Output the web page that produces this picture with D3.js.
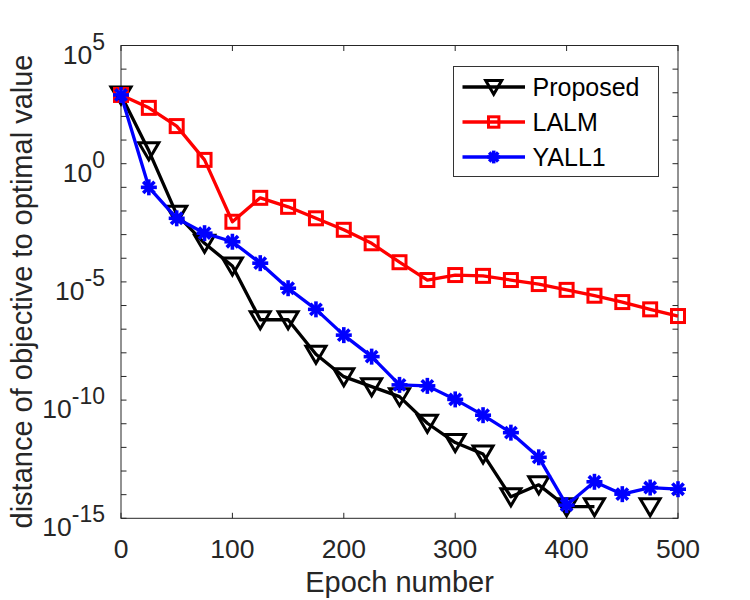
<!DOCTYPE html>
<html>
<head>
<meta charset="utf-8">
<script src="https://cdn.jsdelivr.net/npm/d3@7"></script>
<style>
  body { margin: 0; background: #fff; }
  svg { font-family: "Liberation Sans", Arial, sans-serif; }
</style>
</head>
<body>
<svg id="chart" width="750" height="600"></svg>
<script>
// epochs
var epochs = [0, 25, 50, 75, 100, 125, 150, 175, 200, 225, 250, 275, 300, 325, 350, 375, 400, 425, 450, 475, 500];

// null = not plotted (exact zero on log axis)
var proposed = [8.1e2, 3.5, 7.2e-3, 4.3e-4, 4.7e-5, 2.5e-7, 2.5e-7, 8.7e-9, 9.8e-10, 3.7e-10, 1.4e-10,
  1.05e-11, 1.6e-12, 5.2e-13, 8.1e-15, 2.6e-14, 3.1e-15, 3.1e-15, null, 3.1e-15, null];
var lalm = [8.1e2, 2.3e2, 39, 1.45, 3.5e-3, 3.6e-2, 1.5e-2, 4.9e-3, 1.6e-3, 4.3e-4, 6.8e-5,
  1.2e-5, 1.95e-5, 1.8e-5, 1.2e-5, 8.1e-6, 4.6e-6, 2.6e-6, 1.4e-6, 6.9e-7, 3.6e-7];
var yall1 = [8.1e2, 1.0e-1, 4.9e-3, 1.15e-3, 5.0e-4, 6.2e-5, 5.4e-6, 6.9e-7, 5.6e-8, 6.9e-9, 4.4e-10,
  4.0e-10, 1.07e-10, 2.3e-11, 4.2e-12, 3.8e-13, 3.6e-15, 3.5e-14, 1.05e-14, 2.0e-14, 1.7e-14];

var series_names = ["Proposed", "LALM", "YALL1"];
var series_colors = ["#000000", "#ff0000", "#0000ff"];
var series_markers = ["triangle", "square", "asterisk"];

var x_ticks = [0, 100, 200, 300, 400, 500];
var y_label_exps = [5, 0, -5, -10, -15];

var margin = {left: 121, right: 72, top: 45.5, bottom: 81.7};
var width = 750, height = 600;
var svg = d3.select("#chart");

var x = d3.scaleLinear().domain([0, 500]).range([margin.left, width - margin.right]);
var y = d3.scaleLog().domain([1e-15, 1e5]).range([height - margin.bottom, margin.top]);

var axis_color = "#262626";
var tick_len = 5.5;

function drawFrame(){
    svg.append("rect")
    .attr("x", margin.left)
    .attr("y", margin.top)
    .attr("width", x(500) - x(0))
    .attr("height", y(1e-15) - y(1e5))
    .style("fill", "none")
    .style("stroke", axis_color)
    .style("stroke-width", 1);

    // inward ticks on all four sides
    var decades = d3.range(-15, 6).map(e => Math.pow(10, e));
    svg.selectAll("line.ytick-l")
    .data(decades)
    .enter()
    .append("line")
    .attr("class", "ytick-l")
    .attr("x1", x(0)).attr("x2", x(0) + tick_len)
    .attr("y1", d => y(d)).attr("y2", d => y(d))
    .style("stroke", axis_color);

    svg.selectAll("line.ytick-r")
    .data(decades)
    .enter()
    .append("line")
    .attr("class", "ytick-r")
    .attr("x1", x(500)).attr("x2", x(500) - tick_len)
    .attr("y1", d => y(d)).attr("y2", d => y(d))
    .style("stroke", axis_color);

    svg.selectAll("line.xtick-b")
    .data(x_ticks)
    .enter()
    .append("line")
    .attr("class", "xtick-b")
    .attr("x1", d => x(d)).attr("x2", d => x(d))
    .attr("y1", y(1e-15)).attr("y2", y(1e-15) - tick_len)
    .style("stroke", axis_color);

    svg.selectAll("line.xtick-t")
    .data(x_ticks)
    .enter()
    .append("line")
    .attr("class", "xtick-t")
    .attr("x1", d => x(d)).attr("x2", d => x(d))
    .attr("y1", y(1e5)).attr("y2", y(1e5) + tick_len)
    .style("stroke", axis_color);
}

function drawLabels(){
    svg.selectAll("text.xlabel")
    .data(x_ticks)
    .enter()
    .append("text")
    .attr("class", "xlabel")
    .attr("x", d => x(d))
    .attr("y", y(1e-15) + 40)
    .attr("text-anchor", "middle")
    .attr("font-size", "26.5px")
    .style("fill", axis_color)
    .text(d => d);

    var yl = svg.selectAll("text.ylabel")
    .data(y_label_exps)
    .enter()
    .append("text")
    .attr("class", "ylabel")
    .attr("x", 105)
    .attr("y", d => y(Math.pow(10, d)) + 18)
    .attr("text-anchor", "end")
    .attr("font-size", "26.5px")
    .style("fill", axis_color);
    yl.append("tspan").text("10");
    yl.append("tspan")
    .attr("dy", -14)
    .attr("font-size", "23px")
    .text(d => d);

    svg.append("text")
    .attr("x", x(250))
    .attr("y", 591.5)
    .attr("text-anchor", "middle")
    .attr("font-size", "29px")
    .style("fill", axis_color)
    .text("Epoch number");

    svg.append("text")
    .attr("transform", "translate(31.5," + 291.5 + ") rotate(-90)")
    .attr("text-anchor", "middle")
    .attr("font-size", "29px")
    .style("fill", axis_color)
    .text("distance of objective to optimal value");
}

function drawMarker(g, type, color, s){
    if (type === "triangle") {
        g.append("path")
        .attr("d", "M" + (-10*s) + "," + (-8*s) + "L" + (10*s) + "," + (-8*s) + "L0," + (9*s) + "Z")
        .style("fill", "none")
        .style("stroke", color)
        .style("stroke-width", 3)
        .style("stroke-linejoin", "miter");
    } else if (type === "square") {
        g.append("rect")
        .attr("x", -6.5*s).attr("y", -6.5*s)
        .attr("width", 13*s).attr("height", 13*s)
        .style("fill", "none")
        .style("stroke", color)
        .style("stroke-width", 3);
    } else {
        [0, 45, 90, 135].forEach(a => {
            g.append("line")
            .attr("x1", -8*s).attr("x2", 8*s)
            .attr("y1", 0).attr("y2", 0)
            .attr("transform", "rotate(" + a + ")")
            .style("stroke", color)
            .style("stroke-width", 3.6);
        });
    }
}

function drawSeries(){
    var all = [proposed, lalm, yall1];
    all.forEach((vals, k) => {
        var pts = epochs.map((e, i) => ({x: e, v: vals[i]}));
        var line = d3.line()
        .defined(d => d.v !== null)
        .x(d => x(d.x))
        .y(d => y(d.v));

        svg.append("path")
        .datum(pts)
        .attr("d", line)
        .style("fill", "none")
        .style("stroke", series_colors[k])
        .style("stroke-width", 3.3)
        .style("stroke-linejoin", "round");

        svg.selectAll("g.m" + k)
        .data(pts.filter(d => d.v !== null))
        .enter()
        .append("g")
        .attr("class", "m" + k)
        .attr("transform", d => "translate(" + x(d.x) + "," + y(d.v) + ")")
        .each(function(){ drawMarker(d3.select(this), series_markers[k], series_colors[k], 1); });
    });
}

function drawLegend(){
    var lg = svg.append("g");
    lg.append("rect")
    .attr("x", 453.5).attr("y", 66.5)
    .attr("width", 205).attr("height", 110)
    .style("fill", "#fff")
    .style("stroke", "#333")
    .style("stroke-width", 1);

    series_names.forEach((name, k) => {
        var cy = 87 + k * 35;
        lg.append("line")
        .attr("x1", 462.5).attr("x2", 525)
        .attr("y1", cy).attr("y2", cy)
        .style("stroke", series_colors[k])
        .style("stroke-width", 3.3);
        var m = lg.append("g").attr("transform", "translate(493.7," + cy + ")");
        drawMarker(m, series_markers[k], series_colors[k], 0.8);
        lg.append("text")
        .attr("x", 532.5)
        .attr("y", cy + 9)
        .attr("font-size", "25px")
        .style("fill", "#000")
        .text(name);
    });
}

drawFrame();
drawSeries();
drawLabels();
drawLegend();
</script>
</body>
</html>
